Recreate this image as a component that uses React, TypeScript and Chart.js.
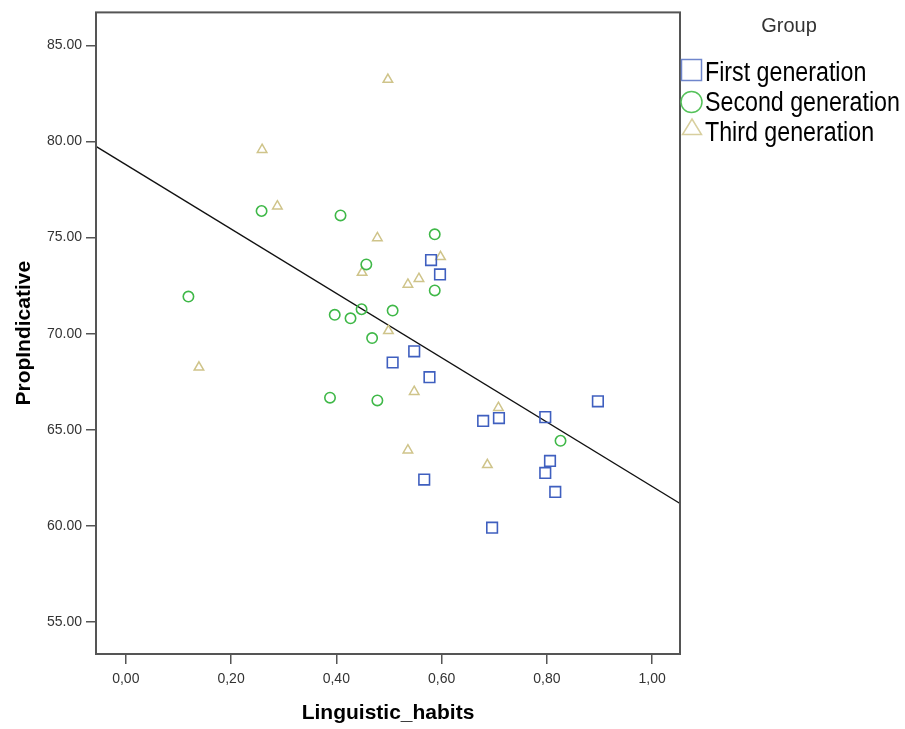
import React, { useEffect, useRef } from 'react';
import { Chart, registerables } from 'chart.js';

Chart.register(...registerables);

const groupTitle = 'Group';
const groupNames = ['First generation', 'Second generation', 'Third generation'];

const firstX = [0.580, 0.597, 0.548, 0.507, 0.577, 0.679, 0.709, 0.797, 0.897, 0.806, 0.797, 0.816, 0.567, 0.696];
const firstY = [73.83, 73.08, 69.08, 68.50, 67.74, 65.46, 65.61, 65.66, 66.48, 63.38, 62.76, 61.77, 62.41, 59.91];

const secondX = [0.258, 0.408, 0.587, 0.457, 0.587, 0.119, 0.448, 0.507, 0.397, 0.427, 0.468, 0.388, 0.478, 0.826];
const secondY = [76.38, 76.15, 75.17, 73.60, 72.25, 71.93, 71.27, 71.20, 70.98, 70.80, 69.77, 66.67, 66.53, 64.43];

const thirdX = [0.498, 0.259, 0.288, 0.478, 0.598, 0.449, 0.557, 0.536, 0.499, 0.139, 0.548, 0.708, 0.536, 0.687];
const thirdY = [83.22, 79.57, 76.63, 74.98, 74.00, 73.18, 72.86, 72.56, 70.15, 68.25, 66.98, 66.15, 63.94, 63.18];

const fitX = [-0.0566, 1.053];
const fitY = [79.74, 61.17];

const xTickValues = [0, 0.2, 0.4, 0.6, 0.8, 1.0];
const xTickLabels = ['0,00', '0,20', '0,40', '0,60', '0,80', '1,00'];
const yTickValues = [55, 60, 65, 70, 75, 80, 85];
const yTickLabels = ['55.00', '60.00', '65.00', '70.00', '75.00', '80.00', '85.00'];

const xTitle = 'Linguistic_habits';
const yTitle = 'PropIndicative';

const FONT = '"Liberation Sans", Arial, sans-serif';
const BLUE = '#3f5fbf';
const GREEN = '#3fb848';
const TAN = '#cfc48a';

const zip = (xs: number[], ys: number[]) => xs.map((x, i) => ({ x, y: ys[i] }));

const decorPlugin = {
  id: 'decor',
  afterDraw(chart: any) {
    const ctx = chart.ctx as CanvasRenderingContext2D;
    const a = chart.chartArea;
    ctx.save();
    // frame
    ctx.strokeStyle = '#555555';
    ctx.lineWidth = 2;
    ctx.strokeRect(a.left, a.top, a.right - a.left, a.bottom - a.top);

    // axis titles
    ctx.fillStyle = '#000';
    ctx.font = `bold 21px ${FONT}`;
    ctx.textAlign = 'center';
    ctx.textBaseline = 'alphabetic';
    ctx.fillText(xTitle, (a.left + a.right) / 2, 719);
    ctx.save();
    ctx.translate(30, (a.top + a.bottom) / 2);
    ctx.rotate(-Math.PI / 2);
    ctx.fillText(yTitle, 0, 0);
    ctx.restore();

    // legend
    ctx.fillStyle = '#333';
    ctx.font = `20px ${FONT}`;
    ctx.textAlign = 'center';
    ctx.fillText(groupTitle, 789, 32);

    ctx.lineWidth = 1.5;
    // square
    ctx.strokeStyle = '#6f86cc';
    ctx.strokeRect(681.5, 59.5, 20, 21);
    // circle
    ctx.strokeStyle = '#55c25a';
    ctx.beginPath();
    ctx.arc(691.5, 102, 10.5, 0, Math.PI * 2);
    ctx.stroke();
    // triangle
    ctx.strokeStyle = '#d8cf9e';
    ctx.beginPath();
    ctx.moveTo(692, 119);
    ctx.lineTo(701.5, 134.5);
    ctx.lineTo(682.5, 134.5);
    ctx.closePath();
    ctx.stroke();

    ctx.fillStyle = '#000';
    ctx.font = `27px ${FONT}`;
    ctx.textAlign = 'left';
    const baselines = [81, 111, 141];
    groupNames.forEach((name, i) => {
      ctx.save();
      ctx.translate(705, baselines[i]);
      ctx.scale(0.86, 1);
      ctx.fillText(name, 0, 0);
      ctx.restore();
    });
    ctx.restore();
  },
};

export default function App() {
  const ref = useRef<HTMLCanvasElement>(null);
  useEffect(() => {
    if (!ref.current) return;
    const chart = new Chart(ref.current, {
      type: 'scatter',
      data: {
        datasets: [
          {
            label: groupNames[0],
            data: zip(firstX, firstY),
            pointStyle: 'rect',
            pointRadius: 7.5,
            borderColor: BLUE,
            backgroundColor: 'rgba(0,0,0,0)',
            borderWidth: 1.6,
          },
          {
            label: groupNames[1],
            data: zip(secondX, secondY),
            pointStyle: 'circle',
            pointRadius: 5.2,
            borderColor: GREEN,
            backgroundColor: 'rgba(0,0,0,0)',
            borderWidth: 1.6,
          },
          {
            label: groupNames[2],
            data: zip(thirdX, thirdY),
            pointStyle: 'triangle',
            pointRadius: 5.5,
            borderColor: TAN,
            backgroundColor: 'rgba(0,0,0,0)',
            borderWidth: 1.5,
          },
          {
            type: 'line',
            label: 'fit',
            data: zip(fitX, fitY),
            borderColor: '#111',
            borderWidth: 1.3,
            pointRadius: 0,
            fill: false,
          } as any,
        ],
      },
      options: {
        animation: false,
        responsive: false,
        devicePixelRatio: 1,
        font: { family: FONT },
        layout: { padding: { top: 9, right: 225, left: 0, bottom: 0 } },
        plugins: {
          legend: { display: false },
          tooltip: { enabled: false },
        },
        scales: {
          x: {
            type: 'linear',
            min: fitX[0],
            max: fitX[1],
            afterBuildTicks: (s: any) => {
              s.ticks = xTickValues.map((v) => ({ value: v }));
            },
            afterFit: (s: any) => {
              s.height = 75;
            },
            ticks: {
              callback: (_v: any, i: number) => xTickLabels[i],
              font: { family: FONT, size: 14 },
              color: '#333',
              padding: 7,
              maxRotation: 0,
              minRotation: 0,
              autoSkip: false,
            },
            grid: { drawOnChartArea: false, drawTicks: true, tickLength: 10, color: '#555', lineWidth: 1.5 },
            border: { display: false },
          },
          y: {
            type: 'linear',
            min: 53.34,
            max: 86.71,
            afterBuildTicks: (s: any) => {
              s.ticks = yTickValues.map((v) => ({ value: v }));
            },
            afterFit: (s: any) => {
              s.width = 96;
            },
            ticks: {
              callback: (_v: any, i: number) => yTickLabels[i],
              font: { family: FONT, size: 14 },
              color: '#333',
              padding: 4,
              autoSkip: false,
            },
            grid: { drawOnChartArea: false, drawTicks: true, tickLength: 10, color: '#555', lineWidth: 1.5 },
            border: { display: false },
          },
        },
      },
      plugins: [decorPlugin],
    });
    return () => chart.destroy();
  }, []);
  return (
    <div style={{ position: 'absolute', left: 0, top: 0, width: 905, height: 729, background: '#fff' }}>
      <canvas ref={ref} width={905} height={729} style={{ display: 'block' }} />
    </div>
  );
}
